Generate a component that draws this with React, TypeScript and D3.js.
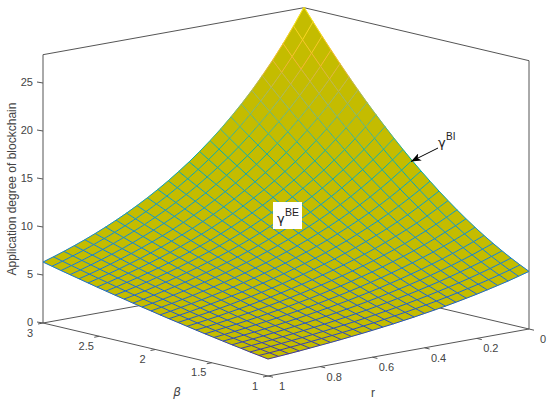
import React from "react";
import * as d3 from "d3";

// r runs along the columns, from the front corner (1) to the right corner (0)
const rValues = [1, 0.96, 0.92, 0.88, 0.84, 0.8, 0.76, 0.72, 0.68, 0.64, 0.6, 0.56, 0.52, 0.48, 0.44, 0.4, 0.36, 0.32, 0.28, 0.24, 0.2, 0.16, 0.12, 0.08, 0.04, 0];
const betaValues = [1, 1.08, 1.16, 1.24, 1.32, 1.4, 1.48, 1.56, 1.64, 1.72, 1.8, 1.88, 1.96, 2.04, 2.12, 2.2, 2.28, 2.36, 2.44, 2.52, 2.6, 2.68, 2.76, 2.84, 2.92, 3];
const zTicks = [0, 5, 10, 15, 20, 25];
const rTicks = [0, 0.2, 0.4, 0.6, 0.8, 1];
const betaTicks = [1, 1.5, 2, 2.5, 3];
const zMax = 27.95;

// Application degree of blockchain: one row per beta, one column per r (estimated)
const applicationDegree = [
  [1.77,1.85,1.93,2.02,2.12,2.22,2.32,2.43,2.55,2.67,2.80,2.94,3.08,3.24,3.40,3.58,3.76,3.95,4.16,4.38,4.61,4.86,5.12,5.39,5.69,6.00],
  [1.92,2.00,2.09,2.19,2.29,2.40,2.51,2.63,2.75,2.88,3.03,3.17,3.33,3.50,3.67,3.86,4.05,4.26,4.48,4.72,4.97,5.23,5.51,5.81,6.12,6.46],
  [2.06,2.16,2.25,2.36,2.47,2.58,2.70,2.83,2.97,3.11,3.26,3.42,3.59,3.77,3.95,4.15,4.37,4.59,4.83,5.08,5.35,5.63,5.93,6.25,6.59,6.95],
  [2.22,2.32,2.42,2.53,2.65,2.77,2.90,3.04,3.18,3.34,3.50,3.67,3.85,4.05,4.25,4.47,4.69,4.93,5.19,5.46,5.75,6.06,6.38,6.72,7.09,7.48],
  [2.37,2.48,2.59,2.71,2.84,2.97,3.11,3.26,3.41,3.58,3.75,3.94,4.13,4.34,4.56,4.79,5.04,5.30,5.57,5.87,6.18,6.51,6.86,7.23,7.63,8.04],
  [2.53,2.64,2.77,2.89,3.03,3.17,3.32,3.48,3.65,3.83,4.01,4.21,4.42,4.65,4.88,5.13,5.40,5.68,5.98,6.29,6.63,6.98,7.36,7.76,8.19,8.64],
  [2.69,2.81,2.94,3.08,3.23,3.38,3.54,3.71,3.89,4.08,4.28,4.50,4.72,4.96,5.22,5.49,5.77,6.08,6.40,6.74,7.10,7.48,7.89,8.32,8.78,9.27],
  [2.85,2.99,3.13,3.27,3.43,3.59,3.77,3.95,4.14,4.35,4.56,4.79,5.04,5.29,5.57,5.86,6.16,6.49,6.84,7.20,7.59,8.01,8.45,8.92,9.41,9.94],
  [3.02,3.16,3.31,3.47,3.64,3.81,4.00,4.19,4.40,4.62,4.85,5.10,5.36,5.64,5.93,6.24,6.57,6.92,7.30,7.69,8.11,8.56,9.03,9.54,10.07,10.65],
  [3.19,3.34,3.50,3.67,3.85,4.03,4.23,4.44,4.66,4.90,5.15,5.41,5.69,5.99,6.31,6.64,7.00,7.37,7.77,8.20,8.65,9.13,9.64,10.19,10.77,11.39],
  [3.37,3.53,3.70,3.87,4.06,4.26,4.48,4.70,4.94,5.19,5.46,5.74,6.04,6.36,6.70,7.05,7.44,7.84,8.27,8.73,9.21,9.73,10.28,10.87,11.50,12.16],
  [3.54,3.71,3.89,4.08,4.29,4.50,4.73,4.96,5.22,5.49,5.77,6.07,6.40,6.74,7.10,7.48,7.89,8.32,8.79,9.28,9.80,10.36,10.95,11.58,12.25,12.97],
  [3.72,3.90,4.10,4.30,4.51,4.74,4.98,5.24,5.51,5.79,6.10,6.42,6.76,7.13,7.51,7.92,8.36,8.83,9.32,9.85,10.41,11.01,11.64,12.32,13.04,13.81],
  [3.91,4.10,4.30,4.52,4.74,4.99,5.24,5.51,5.80,6.10,6.43,6.77,7.14,7.53,7.94,8.38,8.85,9.34,9.87,10.44,11.04,11.68,12.36,13.09,13.87,14.69],
  [4.09,4.30,4.51,4.74,4.98,5.24,5.51,5.80,6.10,6.43,6.77,7.14,7.53,7.94,8.38,8.85,9.35,9.88,10.44,11.05,11.69,12.38,13.11,13.89,14.72,15.61],
  [4.28,4.50,4.72,4.97,5.22,5.49,5.78,6.09,6.41,6.75,7.12,7.51,7.92,8.37,8.84,9.33,9.87,10.43,11.03,11.68,12.37,13.10,13.88,14.72,15.61,16.56],
  [4.48,4.70,4.94,5.20,5.47,5.75,6.06,6.38,6.73,7.09,7.48,7.89,8.33,8.80,9.30,9.83,10.40,11.00,11.64,12.33,13.06,13.84,14.68,15.57,16.53,17.55],
  [4.67,4.91,5.16,5.43,5.72,6.02,6.34,6.69,7.05,7.44,7.85,8.29,8.75,9.25,9.78,10.34,10.94,11.58,12.27,13.00,13.78,14.62,15.51,16.46,17.48,18.57],
  [4.87,5.12,5.39,5.67,5.97,6.29,6.63,7.00,7.38,7.79,8.22,8.69,9.18,9.71,10.27,10.87,11.51,12.19,12.91,13.69,14.52,15.41,16.36,17.37,18.46,19.62],
  [5.07,5.34,5.62,5.92,6.23,6.57,6.93,7.31,7.72,8.15,8.61,9.10,9.62,10.18,10.77,11.41,12.08,12.80,13.58,14.40,15.28,16.23,17.24,18.31,19.47,20.71],
  [5.28,5.56,5.85,6.16,6.50,6.85,7.23,7.63,8.06,8.52,9.00,9.52,10.07,10.66,11.29,11.96,12.68,13.44,14.26,15.14,16.07,17.07,18.15,19.29,20.52,21.84],
  [5.49,5.78,6.09,6.42,6.77,7.14,7.54,7.96,8.41,8.89,9.40,9.95,10.53,11.15,11.82,12.53,13.28,14.09,14.96,15.88,16.88,17.94,19.08,20.29,21.60,23.00],
  [5.70,6.00,6.33,6.67,7.04,7.43,7.85,8.30,8.77,9.28,9.81,10.39,11.00,11.66,12.36,13.11,13.91,14.76,15.68,16.66,17.71,18.83,20.04,21.33,22.72,24.20],
  [5.91,6.23,6.57,6.93,7.32,7.73,8.17,8.64,9.13,9.67,10.23,10.84,11.48,12.17,12.91,13.70,14.54,15.44,16.41,17.45,18.55,19.74,21.02,22.39,23.86,25.43],
  [6.13,6.46,6.82,7.20,7.61,8.04,8.49,8.98,9.51,10.06,10.66,11.29,11.97,12.70,13.48,14.31,15.19,16.15,17.16,18.26,19.43,20.68,22.03,23.47,25.02,26.70],
  [6.35,6.70,7.07,7.47,7.89,8.34,8.82,9.34,9.88,10.47,11.09,11.76,12.47,13.24,14.05,14.93,15.86,16.86,17.94,19.09,20.32,21.65,23.07,24.60,26.24,28.00],
];

const rX = d3.scaleLinear().domain([1, 0]).range([0, 261]);
const rY = d3.scaleLinear().domain([1, 0]).range([0, -47]);
const bX = d3.scaleLinear().domain([1, 3]).range([0, -225]);
const bY = d3.scaleLinear().domain([1, 3]).range([0, -53]);
const zY = d3.scaleLinear().domain([0, 1]).range([0, -9.6]);
const X = (r: number, b: number) => 268 + rX(r) + bX(b);
const Y = (r: number, b: number, z: number) => 376 + rY(r) + bY(b) + zY(z);

const col = d3
  .scaleLinear<string>()
  .domain([1.7, 3, 6, 10, 15, 19, 23, 28])
  .range(["#46329c", "#2450c4", "#1478dc", "#0a98d0", "#08b0a8", "#7fb878", "#f4b434", "#fcee10"])
  .interpolate(d3.interpolateRgb);

const axis = "#555555";
const txt = "#444444";
const font = "'Liberation Sans', Arial, sans-serif";

export default function App() {
  const quads: React.ReactElement[] = [];
  const lines: React.ReactElement[] = [];
  const poly = d3.line<[number, number]>();
  const pt = (i: number, j: number): [number, number] => [
    X(rValues[i], betaValues[j]),
    Y(rValues[i], betaValues[j], applicationDegree[j][i]),
  ];
  for (let j = 0; j < betaValues.length - 1; j++)
    for (let i = 0; i < rValues.length - 1; i++) {
      const p = [pt(i, j), pt(i + 1, j), pt(i + 1, j + 1), pt(i, j + 1)];
      quads.push(<path key={`q${i}-${j}`} d={poly(p)! + "Z"} fill="#c4bc00" stroke="#c4bc00" strokeWidth={0.5} />);
    }
  for (let j = 0; j < betaValues.length; j++)
    for (let i = 0; i < rValues.length; i++) {
      const a = pt(i, j);
      const z = applicationDegree[j][i];
      if (j < betaValues.length - 1) {
        const c = pt(i, j + 1);
        lines.push(<line key={`a${i}-${j}`} x1={a[0]} y1={a[1]} x2={c[0]} y2={c[1]} stroke={col((z + applicationDegree[j + 1][i]) / 2)} strokeWidth={1} />);
      }
      if (i < rValues.length - 1) {
        const c = pt(i + 1, j);
        lines.push(<line key={`b${i}-${j}`} x1={a[0]} y1={a[1]} x2={c[0]} y2={c[1]} stroke={col((z + applicationDegree[j][i + 1]) / 2)} strokeWidth={1} />);
      }
    }
  const L = (r: number, b: number, z: number) => [X(r, b), Y(r, b, z)];
  const seg = (a: number[], c: number[], k: string) => (
    <line key={k} x1={a[0]} y1={a[1]} x2={c[0]} y2={c[1]} stroke={axis} strokeWidth={1} />
  );
  return (
    <svg width={550} height={404} style={{ position: "absolute", left: 0, top: 0, background: "#fff" }} fontFamily={font}>
      <defs>
        <marker id="ah" markerWidth="10" markerHeight="8" refX="10" refY="4" orient="auto" markerUnits="userSpaceOnUse">
          <path d="M0,0 L10,4 L0,8 L2.5,4 Z" fill="#000" />
        </marker>
      </defs>
      {seg(L(0, 3, 0), L(1, 3, 0), "b1")}
      {seg(L(0, 3, 0), L(0, 1, 0), "b2")}
      {seg(L(1, 3, 0), L(1, 3, zMax), "b3")}
      {seg(L(0, 1, 0), L(0, 1, zMax), "b4")}
      {seg(L(1, 3, zMax), L(0, 3, zMax), "b5")}
      {seg(L(0, 1, zMax), L(0, 3, zMax), "b6")}
      {seg(L(1, 3, 0), L(1, 1, 0), "f1")}
      {seg(L(1, 1, 0), L(0, 1, 0), "f2")}
      {zTicks.map((t) => {
        const [x, y] = L(1, 3, t);
        return (
          <g key={t}>
            <line x1={x} y1={y} x2={x - 6} y2={y - 1} stroke={axis} />
            <text x={x - 10} y={y - 1 + 3.5} textAnchor="end" fontSize={11} fill={txt}>{t}</text>
          </g>
        );
      })}
      {rTicks.map((t) => {
        const [x, y] = L(t, 1, 0);
        return (
          <g key={t}>
            <line x1={x} y1={y} x2={x + 5} y2={y + 1.2} stroke={axis} />
            <text x={x + 14} y={y + 14} textAnchor="middle" fontSize={11} fill={txt}>{t}</text>
          </g>
        );
      })}
      {betaTicks.map((t) => {
        const [x, y] = L(1, t, 0);
        return (
          <g key={t}>
            <line x1={x} y1={y} x2={x - 5} y2={y + 1} stroke={axis} />
            <text x={x - 13} y={y + 13.5} textAnchor="middle" fontSize={11} fill={txt}>{t}</text>
          </g>
        );
      })}
      <g>{quads}</g>
      <g>{lines}</g>
      <text transform="translate(16,189) rotate(-90)" textAnchor="middle" fontSize={12} fill={txt}>Application degree of blockchain</text>
      <text x={177} y={396} textAnchor="middle" fontSize={12} fontStyle="italic" fill={txt} fontFamily="'DejaVu Sans', sans-serif">β</text>
      <text x={373} y={397} textAnchor="middle" fontSize={12} fill={txt}>r</text>
      <rect x={273} y={202} width={29} height={27} fill="#fff" />
      <text x={277} y={223} fontSize={13} fill="#222" fontFamily="'DejaVu Sans', sans-serif">γ</text>
      <text x={285} y={216} fontSize={10.5} fill="#222">BE</text>
      <text x={438} y={147} fontSize={13} fill="#222" fontFamily="'DejaVu Sans', sans-serif">γ</text>
      <text x={446} y={140} fontSize={10} fill="#222">BI</text>
      <line x1={438} y1={148} x2={411} y2={161.5} stroke="#000" strokeWidth={1} markerEnd="url(#ah)" />
    </svg>
  );
}
